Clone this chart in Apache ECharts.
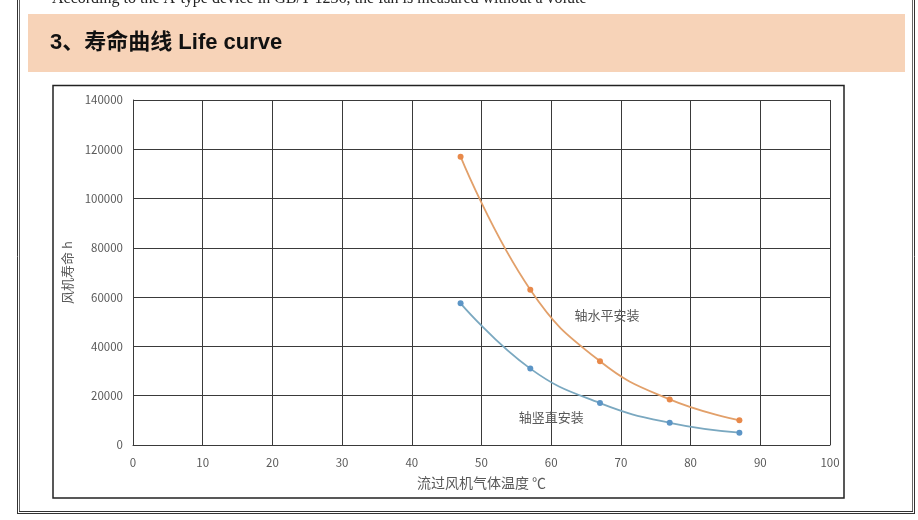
<!DOCTYPE html>
<html><head><meta charset="utf-8">
<script src="https://cdn.jsdelivr.net/npm/echarts@6/dist/echarts.min.js"></script>
<style>html,body{margin:0;padding:0;background:#fff;}#c{width:918px;height:520px;}</style>
</head><body><div id="c"></div>
<script>
const temps = [47, 57, 67, 77, 87];
const lifeHorizontal = [117000, 63000, 34000, 18500, 10000];
const lifeVertical = [57500, 31000, 17000, 9000, 5000];
const seriesNames = ['轴水平安装', '轴竖直安装'];
const labelHorizontalAt = [68, 52800];
const labelVerticalAt = [60, 11400];
const xTicks = [0, 10, 20, 30, 40, 50, 60, 70, 80, 90, 100];
const yTicks = [0, 20000, 40000, 60000, 80000, 100000, 120000, 140000];
const xTitle = '流过风机气体温度 ℃';
const yTitle = '风机寿命 h';
const pageText = 'According to the A-type device in GB/T 1236, the fan is measured without a volute';
const sectionTitle = '3、寿命曲线 Life curve';

const chart = echarts.init(document.getElementById('c'));
const lbl = {color:'#595959', fontSize:11.5, fontFamily:'"Noto Sans CJK SC", "DejaVu Sans", sans-serif', formatter: v => String(v)};
function pairs(ys){ return temps.map((t,i)=>[t, ys[i]]); }
chart.setOption({
  animation:false,
  backgroundColor:'#fff',
  graphic:[
    {type:'text', left:52, top:-9, style:{text:pageText, font:'16px "Liberation Serif", serif', fill:'#222'}},
    {type:'rect', shape:{x:28, y:14, width:877, height:58}, style:{fill:'#f7d3b8'}},
    {type:'text', left:50, top:32, style:{text:sectionTitle, font:'bold 22px "Liberation Sans", "Noto Sans CJK SC", sans-serif', fill:'#111'}},
    {type:'line', shape:{x1:17.5, y1:0, x2:17.5, y2:513}, style:{stroke:'#333', lineWidth:1}},
    {type:'line', shape:{x1:19.5, y1:0, x2:19.5, y2:511}, style:{stroke:'#666', lineWidth:1}},
    {type:'line', shape:{x1:912.5, y1:0, x2:912.5, y2:511}, style:{stroke:'#666', lineWidth:1}},
    {type:'line', shape:{x1:914.5, y1:0, x2:914.5, y2:513}, style:{stroke:'#333', lineWidth:1}},
    {type:'line', shape:{x1:19, y1:511.5, x2:913, y2:511.5}, style:{stroke:'#333', lineWidth:1}},
    {type:'line', shape:{x1:17, y1:513.5, x2:915, y2:513.5}, style:{stroke:'#333', lineWidth:1}},
    {type:'rect', shape:{x:53, y:85.5, width:791, height:412.5}, style:{fill:'none', stroke:'#222', lineWidth:1.5}}
  ],
  grid:{left:133, top:100, width:697, height:345, containLabel:false},
  xAxis:{type:'value', min:xTicks[0], max:xTicks[xTicks.length-1], interval:10,
    name:xTitle, nameLocation:'middle', nameGap:31,
    nameTextStyle:{color:'#595959', fontSize:14, fontFamily:'"Noto Sans CJK SC", sans-serif'},
    axisLine:{show:true, lineStyle:{color:'#3a3a3a', width:1}},
    axisTick:{show:false},
    axisLabel:Object.assign({}, lbl, {margin:12}),
    splitLine:{show:true, lineStyle:{color:'#3a3a3a', width:1}}},
  yAxis:{type:'value', min:yTicks[0], max:yTicks[yTicks.length-1], interval:20000,
    name:yTitle, nameLocation:'middle', nameGap:56, nameRotate:90,
    nameTextStyle:{color:'#595959', fontSize:13, fontFamily:'"Noto Sans CJK SC", sans-serif'},
    axisLine:{show:true, lineStyle:{color:'#3a3a3a', width:1}},
    axisTick:{show:false},
    axisLabel:Object.assign({}, lbl, {margin:10}),
    splitLine:{show:true, lineStyle:{color:'#3a3a3a', width:1}}},
  series:[
    {name:seriesNames[0], type:'line', smooth:0.45, data:pairs(lifeHorizontal),
      symbol:'circle', symbolSize:6,
      itemStyle:{color:'#e8894a'}, lineStyle:{color:'#e2a06a', width:1.8},
      markPoint:{symbol:'circle', symbolSize:0, data:[{coord:labelHorizontalAt, value:seriesNames[0]}],
        label:{show:true, position:'inside', formatter:seriesNames[0], color:'#595959', fontSize:13, fontFamily:'"Noto Sans CJK SC", sans-serif'}}},
    {name:seriesNames[1], type:'line', smooth:0.45, data:pairs(lifeVertical),
      symbol:'circle', symbolSize:6,
      itemStyle:{color:'#5c95c6'}, lineStyle:{color:'#7aa8c0', width:1.8},
      markPoint:{symbol:'circle', symbolSize:0, data:[{coord:labelVerticalAt, value:seriesNames[1]}],
        label:{show:true, position:'inside', formatter:seriesNames[1], color:'#595959', fontSize:13, fontFamily:'"Noto Sans CJK SC", sans-serif'}}}
  ]
});
</script></body></html>
